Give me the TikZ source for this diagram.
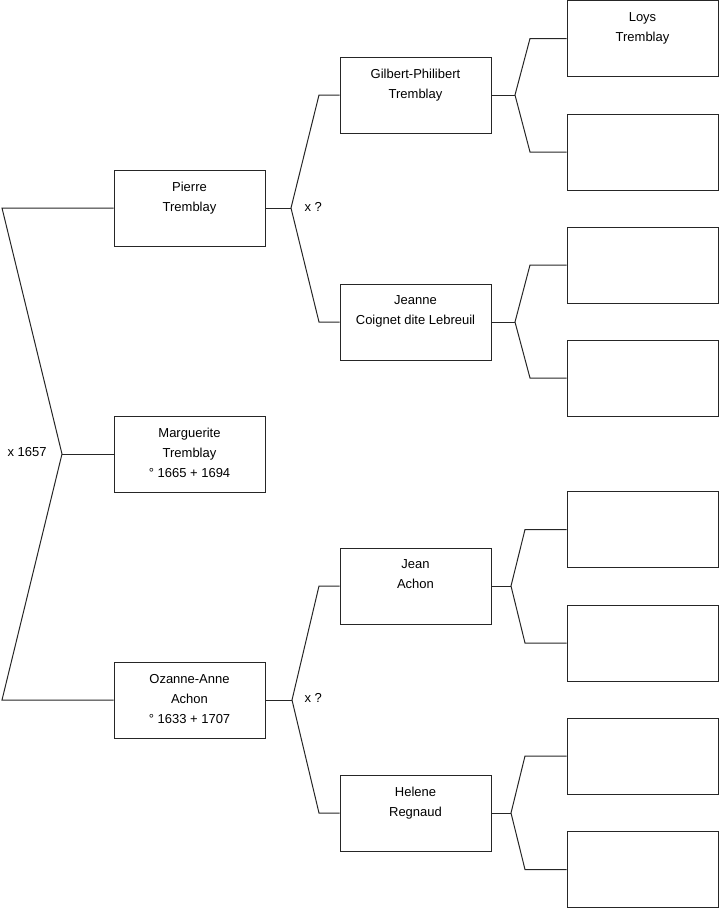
\documentclass[tikz,border=0pt]{standalone}
\usepackage{fontspec}
\setmainfont{Liberation Sans}
\begin{document}
\begin{tikzpicture}[x=1pt,y=-1pt,line width=1pt,
  person/.style={draw=black!85,rectangle,minimum width=151pt,minimum height=76pt,inner sep=0pt},
  nametext/.style={anchor=north,inner sep=0pt,align=center,font=\fontsize{13}{20}\selectfont},
  marr/.style={anchor=west,inner sep=0pt,font=\fontsize{13}{14}\selectfont},
  link/.style={draw=black!85}]
\useasboundingbox (0,0) rectangle (719,908);
% left column
\node[person] (pierre) at (189.5,208) {};
\node[person] (marg) at (189.5,454) {};
\node[person] (ozanne) at (189.5,700) {};
% middle column
\node[person] (gilbert) at (415.5,95) {};
\node[person] (jeanne) at (415.5,322) {};
\node[person] (jean) at (415.5,586) {};
\node[person] (helene) at (415.5,813) {};
% right column
\node[person] (r1) at (642.5,38.5) {};
\node[person] (r2) at (642.5,152) {};
\node[person] (r3) at (642.5,265) {};
\node[person] (r4) at (642.5,378) {};
\node[person] (r5) at (642.5,529.5) {};
\node[person] (r6) at (642.5,643) {};
\node[person] (r7) at (642.5,756) {};
\node[person] (r8) at (642.5,869.5) {};
% texts
\node[nametext] (tpierre) at ([yshift=-12pt]pierre.north) {Pierre\\Tremblay};
\node[nametext] (tmarg) at ([yshift=-12pt]marg.north) {Marguerite\\Tremblay\\° 1665 + 1694};
\node[nametext] (tozanne) at ([yshift=-12pt]ozanne.north) {Ozanne-Anne\\Achon\\° 1633 + 1707};
\node[nametext] (tgilbert) at ([yshift=-12pt]gilbert.north) {Gilbert-Philibert\\Tremblay};
\node[nametext] (tjeanne) at ([yshift=-12pt]jeanne.north) {Jeanne\\Coignet dite Lebreuil};
\node[nametext] (tjean) at ([yshift=-12pt]jean.north) {Jean\\Achon};
\node[nametext] (thelene) at ([yshift=-12pt]helene.north) {Helene\\Regnaud};
\node[nametext] (tloys) at ([yshift=-12pt]r1.north) {Loys\\Tremblay};
% fork coordinates
\coordinate (f0) at (62,454);
\coordinate (c0a) at (2,208);
\coordinate (c0b) at (2,700);
\coordinate (f1) at (291,208);
\coordinate (c1a) at (319,95);
\coordinate (c1b) at (319,322);
\coordinate (f2) at (292,700);
\coordinate (c2a) at (319,586);
\coordinate (c2b) at (319,813);
\coordinate (g1) at (515,95);
\coordinate (g1a) at (530,38.5);
\coordinate (g1b) at (530,152);
\coordinate (g2) at (515,322);
\coordinate (g2a) at (530,265);
\coordinate (g2b) at (530,378);
\coordinate (g3) at (511,586);
\coordinate (g3a) at (525,529.5);
\coordinate (g3b) at (525,643);
\coordinate (g4) at (511,813);
\coordinate (g4a) at (525,756);
\coordinate (g4b) at (525,869.5);
% connectors
\draw[link] (pierre.west) -- (c0a) -- (f0) -- (c0b) -- (ozanne.west);
\draw[link] (f0) -- (marg.west);
\draw[link] (pierre.east) -- (f1);
\draw[link] (gilbert.west) -- (c1a) -- (f1) -- (c1b) -- (jeanne.west);
\draw[link] (ozanne.east) -- (f2);
\draw[link] (jean.west) -- (c2a) -- (f2) -- (c2b) -- (helene.west);
\draw[link] (gilbert.east) -- (g1);
\draw[link] (r1.west) -- (g1a) -- (g1) -- (g1b) -- (r2.west);
\draw[link] (jeanne.east) -- (g2);
\draw[link] (r3.west) -- (g2a) -- (g2) -- (g2b) -- (r4.west);
\draw[link] (jean.east) -- (g3);
\draw[link] (r5.west) -- (g3a) -- (g3) -- (g3b) -- (r6.west);
\draw[link] (helene.east) -- (g4);
\draw[link] (r7.west) -- (g4a) -- (g4) -- (g4b) -- (r8.west);
% marriage labels
\node[marr] (m0) at (7,452) {x 1657};
\node[marr] (m1) at (304,207) {x ?};
\node[marr] (m2) at (304,698) {x ?};
\end{tikzpicture}
\end{document}
